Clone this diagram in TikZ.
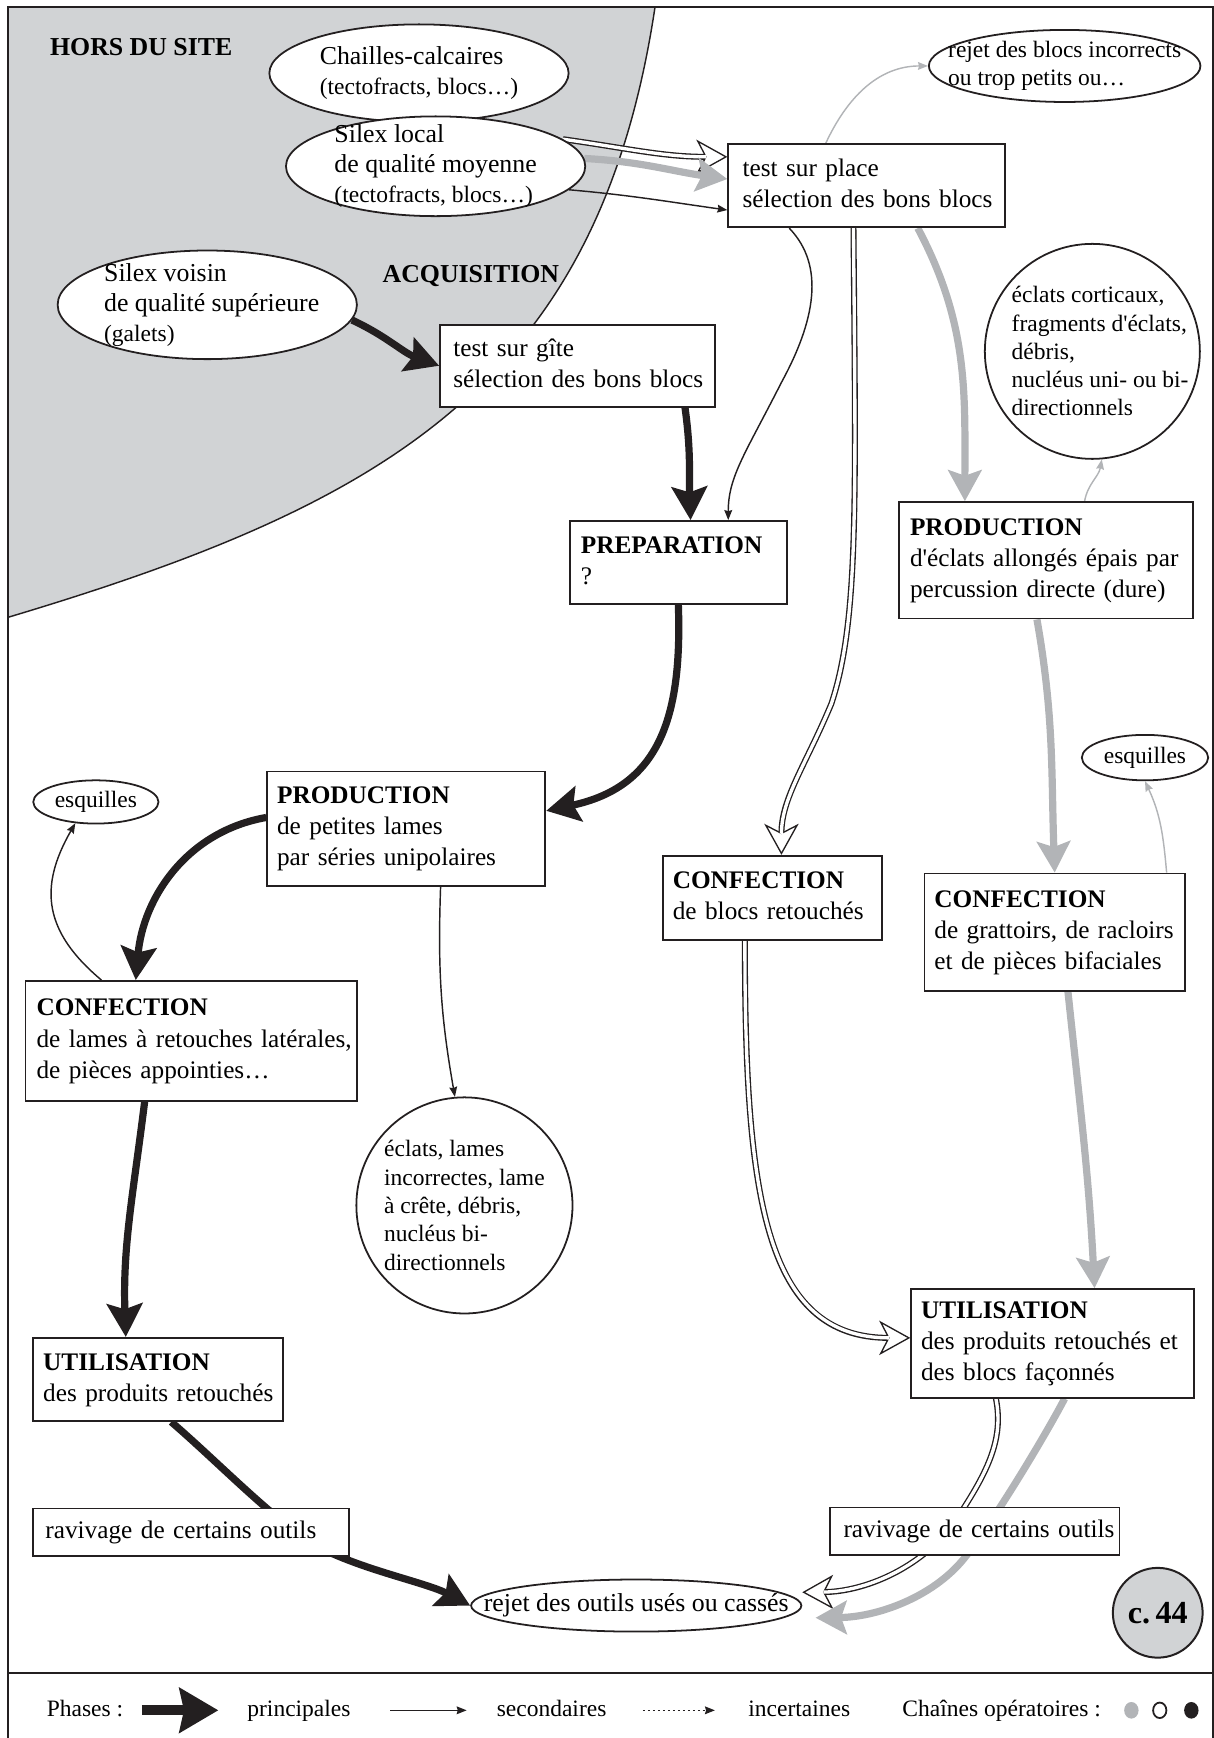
\documentclass[tikz,border=0pt]{standalone}
\usepackage{fontspec}
\setmainfont{Liberation Serif}[Ligatures=TeXOff]
\usetikzlibrary{arrows.meta, shapes.geometric}
\definecolor{SiteGray}{RGB}{209, 211, 213}
\definecolor{ChainGray}{RGB}{178, 180, 183}
\definecolor{InkBlack}{RGB}{35, 31, 32}
\newcommand{\txtbig}{\fontsize{23.3}{28}\selectfont}
\newcommand{\txtbox}{\fontsize{22.8}{28}\selectfont}
\newcommand{\txtmix}{\fontsize{23.3}{27}\selectfont}
\newcommand{\txtsmall}{\fontsize{21.2}{25.5}\selectfont}
\newcommand{\txtparen}{\fontsize{21.2}{27}\selectfont}
\newcommand{\boxlines}[1]{\begin{tabular}{@{}l@{}}#1\end{tabular}}
\pgfdeclarelayer{site}
\pgfdeclarelayer{links}
\pgfsetlayers{site,links,main}

\tikzset{
  stagebox/.style={draw=InkBlack, line width=1.6pt, fill=white, font=\txtbox, align=left, inner xsep=10pt, inner ysep=0pt},
  blob/.style={ellipse, draw=InkBlack, line width=1.6pt, fill=white, inner sep=0pt},
  disc/.style={circle, draw=InkBlack, line width=1.6pt, fill=white, inner sep=0pt},
  lblmix/.style={align=left, inner sep=0pt, font=\txtmix},
  lblsmall/.style={align=left, inner sep=0pt, font=\txtsmall},
  headline/.style={font=\txtbig\bfseries, inner sep=0pt, anchor=base west},
  legtext/.style={font=\txtsmall, inner sep=0pt, anchor=base west},
  mainarrow/.style={draw=InkBlack, line width=6.5pt, -{Stealth[length=30pt, width=32pt, inset=5pt]}},
  grayarrow/.style={draw=ChainGray, line width=6.5pt, -{Stealth[length=28pt, width=30pt, inset=5pt]}},
  minorarrow/.style={draw=InkBlack, line width=1.3pt, -{Stealth[length=9pt, width=7pt, inset=1pt]}},
  graythin/.style={draw=ChainGray, line width=1.3pt, -{Stealth[length=9pt, width=7pt, inset=1pt]}},
  whitearrow/.style={draw=InkBlack, line width=5.4pt, -{Stealth[length=28pt, width=31pt, inset=8pt, fill=white, line width=1.2pt]},
    postaction={draw=white, line width=3pt, shorten >=19pt, -}}
}

\begin{document}
\begin{tikzpicture}[x=1pt, y=1pt]
  \useasboundingbox (0,0) rectangle (1095,-1568);

  % off-site area
  \begin{pgfonlayer}{site}
    \fill[SiteGray] (7,-6) -- (591,-6) .. controls (540,-346) and (348,-455) .. (7,-557) -- cycle;
    \draw[InkBlack, line width=1.3pt] (591,-6) .. controls (540,-346) and (348,-455) .. (7,-557);
  \end{pgfonlayer}

  % frame and legend rule
  \draw[InkBlack, line width=1.6pt] (7,-1568) -- (7,-6) -- (1094,-6) -- (1094,-1568);
  \draw[InkBlack, line width=2pt] (7,-1509) -- (1094,-1509);

  \node[headline] (hors) at (45,-49.7) {HORS DU SITE};
  \node[headline] (acq) at (345,-254.7) {ACQUISITION};

  % raw materials
  \node[blob, minimum width=270pt, minimum height=88pt] (chailles) at (378,-66) {};
  \node[lblmix] (chaillestxt) at (chailles) {Chailles-calcaires\\{\txtparen (tectofracts, blocs…)}};
  \node[blob, minimum width=270pt, minimum height=90pt] (local) at (393,-150) {};
  \node[lblmix] (localtxt) at (local) {Silex local\\de qualité moyenne\\{\txtparen (tectofracts, blocs…)}};
  \node[blob, minimum width=270pt, minimum height=98pt] (voisin) at (187,-275) {};
  \node[lblmix] (voisintxt) at ([xshift=4pt]voisin.center) {Silex voisin\\de qualité supérieure\\{\txtparen (galets)}};

  % tests
  \node[stagebox, inner xsep=12pt, text width=224pt, minimum height=74pt] (gite) at (521,-330) {\boxlines{test sur gîte\\sélection des bons blocs}};
  \node[stagebox, inner xsep=13pt, text width=224pt, minimum height=75pt] (place) at (782,-167.5) {\boxlines{test sur place\\sélection des bons blocs}};
  \node[blob, minimum width=245pt, minimum height=65pt] (rejbloc) at (960.5,-59.5) {};
  \node[lblsmall] (rejbloctxt) at (rejbloc) {rejet des blocs incorrects\\ou trop petits ou…};

  % production
  \node[stagebox, text width=176pt, minimum height=75pt] (prep) at (612,-507.5) {\boxlines{\textbf{PREPARATION}\\?}};
  \node[disc, minimum size=194pt] (circE) at (985.5,-317) {};
  \node[lblsmall] (circEtxt) at ([xshift=7pt]circE.center) {éclats corticaux,\\fragments d'éclats,\\débris,\\nucléus uni- ou bi-\\directionnels};
  \node[stagebox, text width=245pt, minimum height=105pt] (prodE) at (943.5,-505.5) {\boxlines{\textbf{PRODUCTION}\\d'éclats allongés épais par\\percussion directe (dure)}};
  \node[stagebox, inner xsep=9pt, text width=233pt, minimum height=103pt] (prodL) at (366.5,-747.5) {\boxlines{\textbf{PRODUCTION}\\de petites lames\\par séries unipolaires}};

  % confection
  \node[blob, minimum width=113pt, minimum height=39pt] (esqL) at (86.5,-723.5) {};
  \node[lblsmall] (esqLtxt) at (esqL) {esquilles};
  \node[stagebox, text width=279pt, minimum height=108pt] (confL) at (172.5,-939) {\boxlines{\textbf{CONFECTION}\\de lames à retouches latérales,\\de pièces appointies…}};
  \node[stagebox, inner xsep=9pt, text width=180pt, minimum height=76pt] (confB) at (697,-810) {\boxlines{\textbf{CONFECTION}\\de blocs retouchés}};
  \node[blob, minimum width=114pt, minimum height=41pt] (esqR) at (1033,-683.5) {};
  \node[lblsmall] (esqRtxt) at (esqR) {esquilles};
  \node[stagebox, inner xsep=9pt, text width=217pt, minimum height=106pt] (confG) at (951.5,-841) {\boxlines{\textbf{CONFECTION}\\de grattoirs, de racloirs\\et de pièces bifaciales}};
  \node[disc, minimum size=195pt] (circL) at (419,-1087.5) {};
  \node[lblsmall] (circLtxt) at (circL) {éclats, lames\\incorrectes, lame\\à crête, débris,\\nucléus bi-\\directionnels};

  % use and discard
  \node[stagebox, inner xsep=9pt, text width=207pt, minimum height=75pt] (utilL) at (142.5,-1244.5) {\boxlines{\textbf{UTILISATION}\\des produits retouchés}};
  \node[stagebox, inner xsep=9pt, text width=237pt, minimum height=98pt] (utilR) at (949.5,-1212) {\boxlines{\textbf{UTILISATION}\\des produits retouchés et\\des blocs façonnés}};
  \node[stagebox, inner xsep=11pt, text width=263pt, minimum height=43pt] (ravL) at (172.5,-1382.5) {\boxlines{ravivage de certains outils}};
  \node[stagebox, inner xsep=12pt, text width=237pt, minimum height=43pt] (ravR) at (879.5,-1381.5) {\boxlines{ravivage de certains outils}};
  \node[blob, minimum width=298pt, minimum height=47pt] (rejout) at (574,-1448.5) {};
  \node[font=\txtbig, inner sep=0pt] (rejouttxt) at (rejout) {rejet des outils usés ou cassés};
  \node[disc, fill=SiteGray, line width=1.8pt, minimum size=81pt, font=\fontsize{29}{34}\selectfont\bfseries] (chain) at (1044.5,-1455) {c.\,44};

  \begin{pgfonlayer}{links}
    % white chain
    \draw[whitearrow] (local.12) to[out=-8, in=180] ([yshift=26pt]place.west);
    \draw[whitearrow] ([xshift=-12pt]place.south) .. controls (772,-450) and (775,-560) .. (750,-635) .. controls (727,-690) and (705,-720) .. ([xshift=8pt]confB.north);
    \draw[whitearrow] ([xshift=-25pt]confB.south) .. controls (672,-1080) and (690,-1207) .. ([yshift=5pt]utilR.west);
    \draw[whitearrow] ([xshift=-51pt]utilR.south) .. controls (906,-1300) and (890,-1330) .. (860,-1375) .. controls (830,-1415) and (780,-1436) .. ([yshift=12pt]rejout.east);
    % gray chain
    \draw[grayarrow] (local.3) to[out=-3, in=172] ([yshift=6pt]place.west);
    \draw[graythin] ([xshift=-37pt]place.north) to[out=65, in=180] (rejbloc.west);
    \draw[grayarrow] ([xshift=46pt]place.south) to[out=-62, in=90] ([xshift=-73pt]prodE.north);
    \draw[graythin] ([xshift=35pt]prodE.north) to[out=80, in=-100] (circE.-85);
    \draw[grayarrow] ([xshift=-8pt]prodE.south) to[out=-80, in=92] (confG.north);
    \draw[graythin] ([xshift=101pt]confG.north) to[out=95, in=-65] (esqR.south);
    \draw[grayarrow] ([xshift=12pt]confG.south) to[out=-84, in=93] ([xshift=38pt]utilR.north);
    \draw[grayarrow] ([xshift=11pt]utilR.south) .. controls (942,-1297) and (895,-1375) .. (869,-1407) .. controls (840,-1442) and (790,-1459) .. ([xshift=12pt, yshift=-11pt]rejout.east);
    % black chain
    \draw[minorarrow] (local.-10) to[out=-5, in=172] ([yshift=-22pt]place.west);
    \draw[mainarrow] (voisin.-6) to[out=-25, in=160] (gite.west);
    \draw[mainarrow] ([xshift=97pt]gite.south) to[out=-82, in=92] ([xshift=11pt]prep.north);
    \draw[minorarrow] ([xshift=-70pt]place.south) .. controls (745,-240) and (735,-290) .. (705,-345) .. controls (672,-410) and (657,-430) .. ([xshift=45pt]prep.north);
    \draw[mainarrow] (prep.south) to[out=-88, in=12, looseness=1.2] ([yshift=16pt]prodL.east);
    \draw[minorarrow] ([xshift=31pt]prodL.south) to[out=-92, in=100] (circL.95);
    \draw[mainarrow] ([yshift=10pt]prodL.west) to[out=190, in=85] ([xshift=-50pt]confL.north);
    \draw[minorarrow] ([xshift=-81pt]confL.north) to[out=140, in=-120, looseness=1.2] (esqL.-134);
    \draw[mainarrow] ([xshift=-42pt]confL.south) to[out=-97, in=92] ([xshift=-29pt]utilL.north);
    \draw[mainarrow] ([xshift=12pt]utilL.south) .. controls (200,-1322) and (250,-1375) .. (290,-1397) .. controls (330,-1417) and (385,-1428) .. (rejout.west);
  \end{pgfonlayer}

  % legend
  \node[legtext] (legphases) at (42,-1549) {Phases :};
  \coordinate (legmainA) at (128,-1543);
  \coordinate (legmainB) at (197,-1543);
  \draw[draw=InkBlack, line width=9pt, -{Stealth[length=35pt, width=40pt, inset=4pt]}] (legmainA) -- (legmainB);
  \node[legtext] (legmain) at (223,-1549) {principales};
  \coordinate (legminorA) at (352,-1543);
  \coordinate (legminorB) at (421,-1543);
  \draw[minorarrow] (legminorA) -- (legminorB);
  \node[legtext] (legminor) at (448,-1549) {secondaires};
  \coordinate (legunsureA) at (580,-1543);
  \coordinate (legunsureB) at (645,-1543);
  \draw[minorarrow, dash pattern=on 2pt off 2.5pt] (legunsureA) -- (legunsureB);
  \node[legtext] (legunsure) at (675,-1549) {incertaines};
  \node[legtext] (legchains) at (814,-1549) {Chaînes opératoires :};
  \node[ellipse, fill=ChainGray, inner sep=0pt, minimum width=13pt, minimum height=15pt] (dotgray) at (1020.7,-1543) {};
  \node[ellipse, draw=InkBlack, line width=1.6pt, fill=white, inner sep=0pt, minimum width=12pt, minimum height=14pt] (dotwhite) at (1046.3,-1543) {};
  \node[ellipse, fill=InkBlack, inner sep=0pt, minimum width=13pt, minimum height=15pt] (dotblack) at (1074.8,-1543) {};
\end{tikzpicture}
\end{document}
